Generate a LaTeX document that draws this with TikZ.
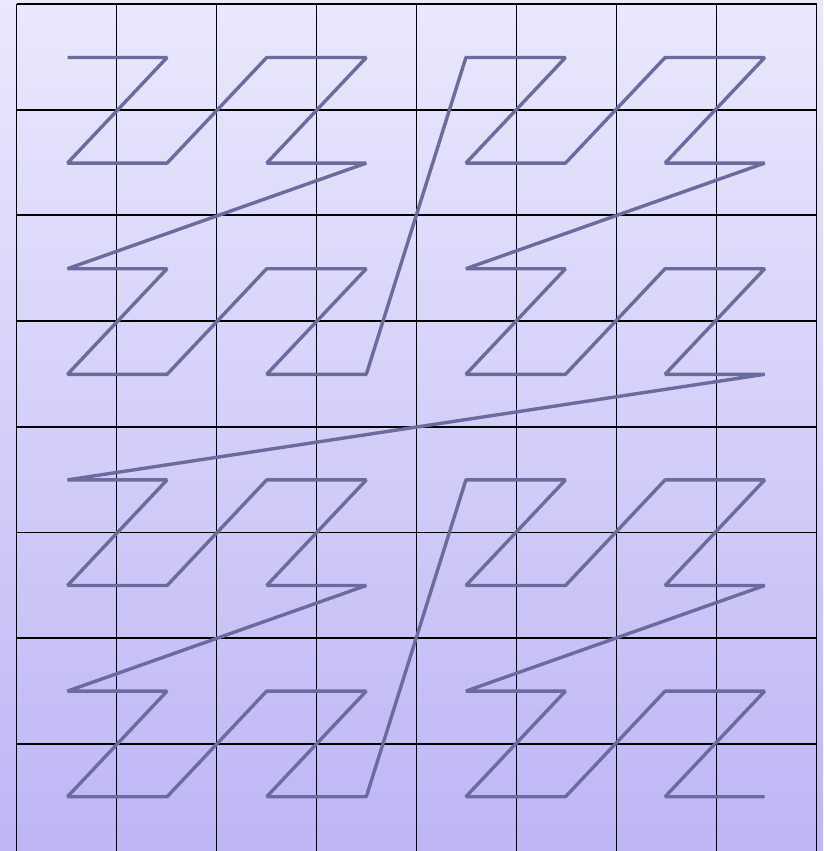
\documentclass[tikz,border=0pt]{standalone}
\begin{document}
\begin{tikzpicture}[x=1pt,y=-1pt,
  gridline/.style={black,line width=1.9pt},
  curve/.style={draw={rgb,255:red,107;green,107;blue,158},line width=3.4pt,line join=bevel}]
\definecolor{bgtop}{RGB}{234,232,253}
\definecolor{bgbot}{RGB}{190,182,245}
\useasboundingbox (0,0) rectangle (823,851);
\shade[top color=bgtop,bottom color=bgbot] (0,0) rectangle (823,851);
\foreach \k in {0,...,8}{
  \draw[gridline] (16.5+100*\k,4) -- (16.5+100*\k,851);
}
\foreach \k in {0,...,7}{
  \draw[gridline] (16.5,4+105.7*\k) -- (816.5,4+105.7*\k);
}
\draw[curve] (67.5,57.5)
  \foreach \i [evaluate=\i as \xx using {67.5+99.6*(mod(\i,2)+2*mod(floor(\i/4),2)+4*mod(floor(\i/16),2))},
               evaluate=\i as \yy using {57.5+105.6*(mod(floor(\i/2),2)+2*mod(floor(\i/8),2)+4*mod(floor(\i/32),2))}]
  in {1,...,63} { -- (\xx,\yy) };
\end{tikzpicture}
\end{document}
